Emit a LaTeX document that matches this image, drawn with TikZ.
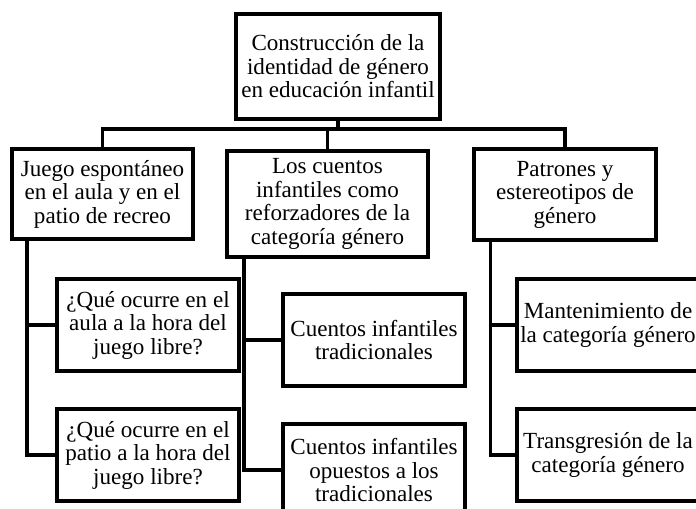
\documentclass[tikz,border=0pt]{standalone}
\usepackage{fontspec}
\setmainfont{Liberation Serif}

\tikzset{every picture/.style={line width=2.8pt}}
\tikzset{box/.style={draw, align=center, inner sep=0pt, font=\fontsize{17.3}{17.6}\selectfont},
         lvlone/.style={box, minimum width=136pt, minimum height=68pt},
         lvltwo/.style={box, minimum width=137pt, minimum height=69pt}}

\begin{document}
\begin{tikzpicture}[x=0.75pt,y=0.75pt,yscale=-1,xscale=1]
    \useasboundingbox (0,0) rectangle (696,508);
    \clip (0,0) rectangle (696,508);

    %Shape: Rectangle [root]
    \node[box, minimum width=153pt, minimum height=78.75pt] (root) at (338,66.5) {Construcción de la\\identidad de género\\en educación infantil};

    %Shape: Rectangle [first row]
    \node[lvlone] (juego) at (102.5,194) {Juego espontáneo\\en el aula y en el\\patio de recreo};
    \node[box, minimum width=150.75pt, minimum height=79.5pt] (cuentos) at (327.5,204) {Los cuentos\\infantiles como\\reforzadores de la\\categoría género};
    \node[lvlone] (patrones) at (565,194.5) {Patrones y\\estereotipos de\\género};

    %Shape: Rectangle [second row]
    \node[lvltwo] (aula) at (148,325) {¿Qué ocurre en el\\aula a la hora del\\juego libre?};
    \node[lvltwo] (patio) at (148,455) {¿Qué ocurre en el\\patio a la hora del\\juego libre?};
    \node[lvltwo] (trad) at (374,340) {Cuentos infantiles\\tradicionales};
    \node[lvltwo] (opuestos) at (374,470) {Cuentos infantiles\\opuestos a los\\tradicionales};
    \node[lvltwo] (mant) at (608,325) {Mantenimiento de\\la categoría género};
    \node[lvltwo] (transg) at (608,455) {Transgresión de la\\categoría género};

    %Straight Lines [bus]
    \coordinate (bus) at (338,129);
    \draw (root.south) -- (bus);
    \draw (juego.north) |- (bus) -| (patrones.north);
    \draw (cuentos.north) -- (cuentos.north |- bus);

    %Straight Lines [branches]
    \draw (juego.south west) ++(17,0) |- (aula.west);
    \draw (juego.south west) ++(17,0) |- (patio.west);
    \draw (cuentos.south west) ++(19,0) |- (trad.west);
    \draw (cuentos.south west) ++(19,0) |- (opuestos.west);
    \draw (patrones.south west) ++(18,0) |- (mant.west);
    \draw (patrones.south west) ++(18,0) |- (transg.west);

\end{tikzpicture}
\end{document}
